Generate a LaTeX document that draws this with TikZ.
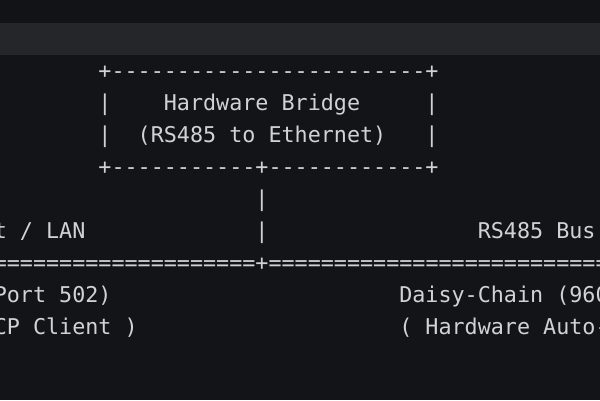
\documentclass[tikz,border=0pt]{standalone}
\usepackage{fontspec}
\newfontfamily\codefont[Ligatures=TeXOff]{DejaVu Sans Mono}
\definecolor{bgmain}{HTML}{131417}
\definecolor{bgtop}{HTML}{121316}
\definecolor{bgband}{HTML}{25262A}
\definecolor{codetxt}{HTML}{CFD3D8}
\begin{document}
\begin{tikzpicture}[x=1pt,y=-1pt,
  ascii/.style={anchor=base west,inner sep=0pt,outer sep=0pt,text=codetxt,
    font={\codefont\fontsize{21.73}{26}\selectfont}}]
\useasboundingbox (0,0) rectangle (600,400);
\clip (0,0) rectangle (600,400);
\fill[bgmain] (0,0) rectangle (600,400);
\fill[bgtop] (0,0) rectangle (600,23);
\fill[bgband] (0,23) rectangle (600,55);
% row 0: top border of the bridge box
\node[ascii] (boxtop) at (98.46,78.5) {+------------------------+};
% row 1
\node[ascii] (l1) at (98.46,110.5) {|};
\node[ascii] (bridge) at (163.86,110.5) {Hardware Bridge};
\node[ascii] (r1) at (425.46,110.5) {|};
% row 2
\node[ascii] (l2) at (98.46,142.5) {|};
\node[ascii] (conv) at (137.70,142.5) {(RS485 to Ethernet)};
\node[ascii] (r2) at (425.46,142.5) {|};
% row 3: bottom border
\node[ascii] (boxbot) at (98.46,174.5) {+-----------+------------+};
% row 4, 5: vertical link
\node[ascii] (v1) at (255.42,206.5) {|};
\node[ascii] (lan) at (-6.18,238.5) {t / LAN};
\node[ascii] (v2) at (255.42,238.5) {|};
\node[ascii] (bus) at (477.78,238.5) {RS485 Bus};
% row 6: the shared bus line
\node[ascii] (busline) at (-6.18,270.5) {====================+==========================};
% rows 7, 8
\node[ascii] (port) at (-6.18,302.5) {Port 502)};
\node[ascii] (daisy) at (399.30,302.5) {Daisy-Chain (960};
\node[ascii] (client) at (-6.18,334.5) {CP Client )};
\node[ascii] (auto) at (399.30,334.5) {( Hardware Auto-};
\end{tikzpicture}
\end{document}
